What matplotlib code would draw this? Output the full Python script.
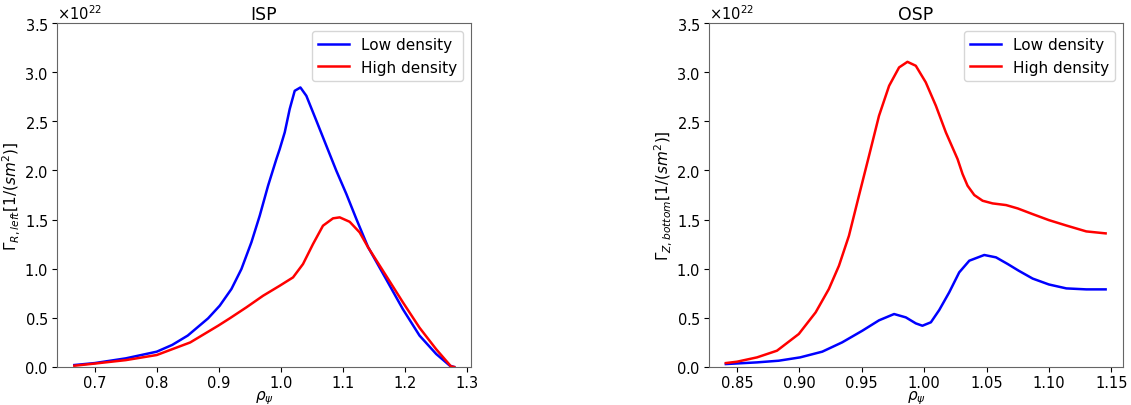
import matplotlib
matplotlib.use("Agg")
import matplotlib.pyplot as plt
import numpy as np
from matplotlib.ticker import ScalarFormatter

SCALE = 1e22

# ISP (left panel), values in units of 1e22
isp_low_x = [0.667, 0.70, 0.75, 0.80, 0.825, 0.85, 0.8828, 0.9016, 0.9205, 0.9366, 0.9527,
             0.9661, 0.9796, 0.993, 0.9984, 1.0065, 1.0145, 1.0226, 1.0318, 1.0414, 1.0576,
             1.0737, 1.0898, 1.106, 1.1221, 1.141, 1.170, 1.197, 1.224, 1.251, 1.273, 1.280]
isp_low_y = [0.02, 0.04, 0.088, 0.156, 0.225, 0.32, 0.495, 0.624, 0.794, 0.997, 1.269,
             1.539, 1.845, 2.116, 2.218, 2.388, 2.625, 2.811, 2.845, 2.76, 2.506,
             2.251, 1.997, 1.76, 1.506, 1.22, 0.895, 0.59, 0.32, 0.132, 0.013, 0.0]

isp_high_x = [0.667, 0.70, 0.75, 0.80, 0.854, 0.899, 0.9177, 0.9446, 0.9715, 0.9984, 1.0199,
              1.036, 1.0521, 1.0682, 1.0844, 1.0952, 1.1113, 1.1274, 1.141, 1.170, 1.197,
              1.224, 1.251, 1.275, 1.280]
isp_high_y = [0.013, 0.035, 0.07, 0.122, 0.25, 0.42, 0.495, 0.607, 0.725, 0.827, 0.912,
              1.048, 1.251, 1.438, 1.513, 1.523, 1.478, 1.370, 1.218, 0.93, 0.66,
              0.40, 0.18, 0.005, 0.0]

# OSP (right panel), values in units of 1e22
osp_low_x = [0.841, 0.866, 0.8834, 0.9006, 0.9183, 0.9343, 0.9504, 0.9638, 0.9759, 0.9853,
             0.9933, 0.9986, 1.0054, 1.0121, 1.0201, 1.0281, 1.0362, 1.0482, 1.0576, 1.067,
             1.0758, 1.087, 1.10, 1.114, 1.130, 1.1455]
osp_low_y = [0.03, 0.047, 0.064, 0.098, 0.156, 0.251, 0.369, 0.475, 0.539, 0.505,
             0.444, 0.42, 0.455, 0.58, 0.76, 0.963, 1.082, 1.14, 1.116, 1.048,
             0.98, 0.90, 0.84, 0.80, 0.79, 0.79]

osp_high_x = [0.841, 0.85, 0.866, 0.882, 0.8995, 0.913, 0.9236, 0.9317, 0.9397, 0.9477,
              0.9558, 0.9638, 0.9719, 0.9799, 0.9866, 0.9933, 1.0013, 1.0094, 1.0174,
              1.0268, 1.0308, 1.0348, 1.0402, 1.0469, 1.0549, 1.0657, 1.075, 1.087, 1.10,
              1.114, 1.130, 1.1455]
osp_high_y = [0.04, 0.054, 0.098, 0.166, 0.336, 0.556, 0.794, 1.031, 1.336, 1.743,
              2.15, 2.557, 2.862, 3.049, 3.106, 3.066, 2.897, 2.659, 2.388,
              2.116, 1.964, 1.845, 1.75, 1.692, 1.665, 1.648, 1.614, 1.556, 1.495,
              1.44, 1.38, 1.36]

labels = ["Low density", "High density"]
colors = ["blue", "red"]
FS_TICK = 10.5
FS_LAB = 11
FS_LEG = 11
FS_TITLE = 12.5

fig = plt.figure(figsize=(11.31, 4.06), dpi=100)
ax1 = fig.add_axes([0.0504, 0.0936, 0.366, 0.847])
ax2 = fig.add_axes([0.627, 0.0936, 0.366, 0.847])

panels = [
    (ax1, isp_low_x, isp_low_y, isp_high_x, isp_high_y, "ISP",
     r"$\Gamma_{R,left}[1/(sm^2)]$", [0.7, 0.8, 0.9, 1.0, 1.1, 1.2, 1.3], "{:.1f}"),
    (ax2, osp_low_x, osp_low_y, osp_high_x, osp_high_y, "OSP",
     r"$\Gamma_{Z,bottom}[1/(sm^2)]$", [0.85, 0.90, 0.95, 1.00, 1.05, 1.10, 1.15], "{:.2f}"),
]

for ax, lx, ly, hx, hy, title, ylab, xt, fmt in panels:
    ax.plot(lx, np.array(ly) * SCALE, color=colors[0], lw=1.8, label=labels[0])
    ax.plot(hx, np.array(hy) * SCALE, color=colors[1], lw=1.8, label=labels[1])
    ax.set_ylim(0, 3.5e22)
    ax.set_yticks(np.arange(0, 3.51, 0.5) * SCALE)
    sf = ScalarFormatter(useMathText=True)
    ax.yaxis.set_major_formatter(sf)
    ax.yaxis.get_offset_text().set_fontsize(FS_TICK)
    ax.set_xticks(xt)
    ax.set_xticklabels([fmt.format(v) for v in xt])
    ax.tick_params(labelsize=FS_TICK, pad=2.5)
    ax.set_title(title, fontsize=FS_TITLE, pad=3)
    ax.set_xlabel(r"$\rho_\psi$", fontsize=FS_LAB, labelpad=-1.5)
    ax.set_ylabel(ylab, fontsize=FS_LAB, labelpad=2)
    ax.legend(loc="upper right", fontsize=FS_LEG)
    for s in ax.spines.values():
        s.set_color("#666666")

ax1.set_xlim(0.639, 1.307)
ax2.set_xlim(0.8276, 1.1595)

fig.savefig("out.png", dpi=100)
